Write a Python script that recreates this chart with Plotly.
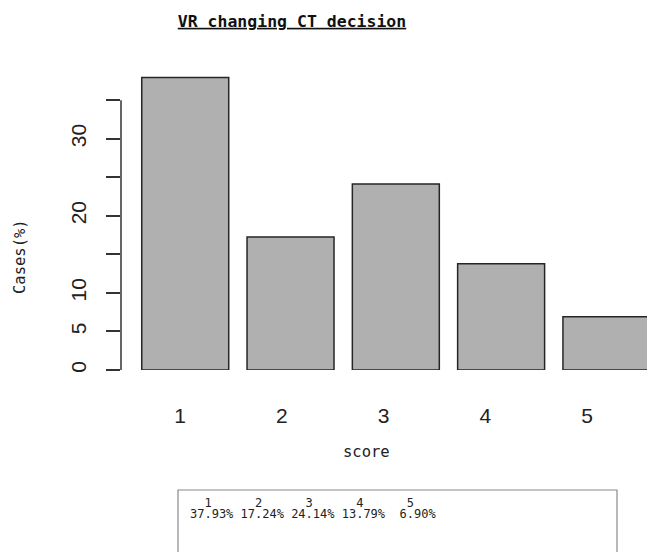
import plotly.graph_objects as go

# Scores and share of cases (%) for each score
scores = ["1", "2", "3", "4", "5"]
cases_pct = [37.93, 17.24, 24.14, 13.79, 6.90]

# y-axis ticks (R-style: some labels dropped where they would overlap)
y_tickvals = [0, 5, 10, 15, 20, 25, 30, 35]
y_ticktext = ["0", "5", "10", "", "20", "", "30", ""]

W, H = 647, 552
L, R, T, B = 121, 0, 60, 182
PW, PH = W - L - R, H - T - B


def px_x(p):
    return (p - L) / PW


def px_y(p):
    return (H - B - p) / PH


positions = list(range(1, len(scores) + 1))

fig = go.Figure()
fig.add_trace(go.Bar(
    x=positions, y=cases_pct, width=0.826,
    marker=dict(color="#b0b0b0", line=dict(color="#262626", width=1.5)),
    showlegend=False, hoverinfo="skip",
))

mono = "DejaVu Sans Mono"
arial = "Liberation Sans, Arial, sans-serif"

fig.update_layout(
    width=W, height=H,
    margin=dict(l=L, r=R, t=T, b=B),
    paper_bgcolor="white", plot_bgcolor="white",
    title=dict(
        text="<b>VR changing CT decision</b>",
        font=dict(family=mono, size=16.5, color="#111", lineposition="under"),
        xref="container", yref="container",
        x=292 / W, xanchor="center", y=1 - 21 / H, yanchor="middle",
    ),
    xaxis=dict(
        range=[0.39, 0.39 + PW / 105.3],
        showticklabels=False, ticks="", showgrid=False, zeroline=False,
        showline=False,
    ),
    xaxis2=dict(
        overlaying="x", anchor="y", side="bottom",
        range=[1 - 59 / 101.75, 1 - 59 / 101.75 + PW / 101.75],
        tickvals=positions, ticktext=scores, ticks="",
        tickfont=dict(family=arial, size=21, color="#222"),
        ticklabelstandoff=31,
        showgrid=False, zeroline=False, showline=False,
    ),
    yaxis=dict(
        range=[0, PH / 7.71],
        tickvals=y_tickvals, ticktext=y_ticktext,
        ticks="outside", ticklen=14, tickwidth=1.5, tickcolor="#333",
        tickangle=-90, ticklabelstandoff=12,
        tickfont=dict(family=arial, size=21, color="#222"),
        showgrid=False, zeroline=False, showline=False,
    ),
)

# invisible trace so the overlay axis carrying the score labels is drawn
fig.add_trace(go.Scatter(x=[], y=[], xaxis="x2", yaxis="y", showlegend=False))

# y axis line spanning only the tick range
fig.add_shape(type="line", xref="paper", yref="y", x0=0, x1=0,
              y0=y_tickvals[0], y1=y_tickvals[-1],
              line=dict(color="#333", width=1.5))

# axis titles
fig.add_annotation(text="score", xref="paper", yref="paper",
                   x=px_x(366), y=px_y(452), xanchor="center", yanchor="middle",
                   showarrow=False, font=dict(family=mono, size=15.5, color="#222"))
fig.add_annotation(text="Cases(%)", xref="paper", yref="paper", textangle=-90,
                   x=px_x(20), y=px_y(257), xanchor="center", yanchor="middle",
                   showarrow=False, font=dict(family=mono, size=15.5, color="#222"))

# summary table box below the chart
fig.add_shape(type="rect", xref="paper", yref="paper",
              x0=px_x(178), x1=px_x(617), y0=px_y(490), y1=px_y(562),
              line=dict(color="#8a8a8a", width=1.2), fillcolor="rgba(0,0,0,0)")

# printed table: percent values right-justified, labels roughly centred above
col_w = max(len(f"{v:.2f}%") for v in cases_pct)
header = " ".join(("  " + s).ljust(col_w) for s in scores).rstrip()
values = " ".join(f"{v:.2f}%".rjust(col_w) for v in cases_pct)
nb = lambda s: s.replace(" ", "\u00a0")

fig.add_annotation(text=nb(header), xref="paper", yref="paper",
                   x=px_x(188), y=px_y(503), xanchor="left", yanchor="middle",
                   showarrow=False, font=dict(family=mono, size=12, color="#222"))
fig.add_annotation(text=nb(values), xref="paper", yref="paper",
                   x=px_x(188), y=px_y(514), xanchor="left", yanchor="middle",
                   showarrow=False, font=dict(family=mono, size=12, color="#222"))

fig.write_html("out.html")
